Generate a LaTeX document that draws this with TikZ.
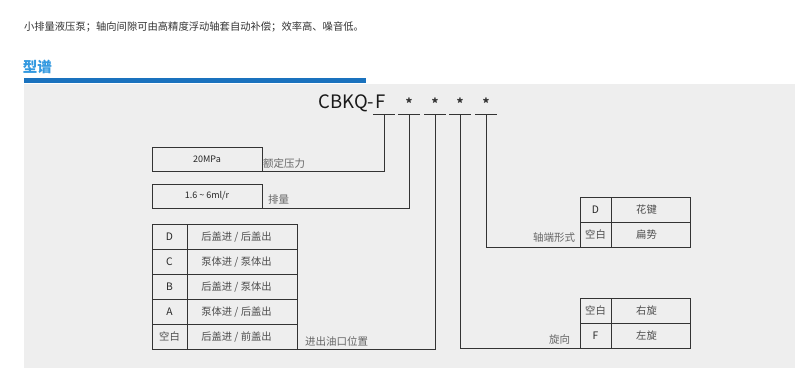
\documentclass[tikz,border=0pt]{standalone}
\usepackage{fontspec}
\setmainfont{Noto Sans CJK SC}
\begin{document}
\begin{tikzpicture}[x=1pt,y=-1pt,
  every node/.style={inner sep=0pt,outer sep=0pt},
  ln/.style={draw=black!80,line width=1pt},
  cell/.style={draw=black!80,line width=1pt,minimum height=25pt,font=\fontsize{10.3}{12}\selectfont,text=black!70},
  lbl/.style={font=\fontsize{10.5}{12}\selectfont,text=black!60},
  boxv/.style={draw=black!80,line width=1pt,minimum width=110pt,minimum height=24pt,font=\fontsize{9}{11}\selectfont,text=black!85}]
\useasboundingbox (0,0) rectangle (800,373);
\definecolor{bgg}{HTML}{EEEEEE}
\definecolor{barb}{HTML}{1A72BE}
\definecolor{ttlb}{HTML}{3399E0}
\fill[white] (0,0) rectangle (800,373);
\fill[bgg] (24,84) rectangle (795,368);
\fill[barb] (24,78) rectangle (366,83);
\node[anchor=west,font=\fontsize{10.3}{12}\selectfont,text=black!80] (desc) at (24,27) {小排量液压泵；轴向间隙可由高精度浮动轴套自动补偿；效率高、噪音低。};
\node[anchor=west,font=\fontsize{14.5}{16}\selectfont\bfseries,text=ttlb] (title) at (23,67) {型谱};
% code
\node[anchor=base east,font=\fontsize{18.5}{20}\selectfont,text=black!90] (code) at (386,108) {CBKQ-\hspace{1.5pt}F};
\foreach \x/\n in {409/a2,435/a3,460/a4,486/a5}
  \node[font=\fontsize{13}{13}\selectfont\bfseries,text=black!80] (\n) at (\x,103) {*};
% underline segments and joint coordinates
\foreach \x/\n in {384/s1,409/s2,435/s3,460/s4,486/s5}{
  \coordinate (\n) at (\x,114);
  \coordinate (\n l) at (\x-11,114);
  \coordinate (\n r) at (\x+11,114);
  \draw[ln] (\n l) -- (\n r);
}
% boxes
\node[boxv] (p20) at (207,159) {20MPa};
\node[lbl,anchor=west] (l20) at (263,163) {额定压力};
\draw[ln] (p20.south east) -| (s1);
\node[boxv] (disp) at (207,196) {1.6 \textasciitilde{} 6ml/r};
\node[lbl,anchor=west] (ldisp) at (268,200) {排量};
\draw[ln] (disp.south east) -| (s2);
% left table
\node[cell,minimum width=35pt,text=black!85] (k1) at (169.5,237) {D};
\node[cell,minimum width=110pt] (v1) at (242.5,237) {后盖进 / 后盖出\hspace*{12pt}};
\node[cell,minimum width=35pt,text=black!85] (k2) at (169.5,262) {C};
\node[cell,minimum width=110pt] (v2) at (242.5,262) {泵体进 / 泵体出\hspace*{12pt}};
\node[cell,minimum width=35pt,text=black!85] (k3) at (169.5,287) {B};
\node[cell,minimum width=110pt] (v3) at (242.5,287) {后盖进 / 泵体出\hspace*{12pt}};
\node[cell,minimum width=35pt,text=black!85] (k4) at (169.5,312) {A};
\node[cell,minimum width=110pt] (v4) at (242.5,312) {泵体进 / 后盖出\hspace*{12pt}};
\node[cell,minimum width=35pt] (k5) at (169.5,337) {空白};
\node[cell,minimum width=110pt] (v5) at (242.5,337) {后盖进 / 前盖出\hspace*{12pt}};
\node[lbl,anchor=west] (lport) at (305,341) {进出油口位置};
\draw[ln] (v5.south east) -| (s3);
% shaft end table
\node[cell,minimum width=31pt,text=black!85] (sk1) at (595.5,209.5) {D};
\node[cell,minimum width=79pt] (sv1) at (650.5,209.5) {花键\hspace*{8pt}};
\node[cell,minimum width=31pt] (sk2) at (595.5,234.5) {空白};
\node[cell,minimum width=79pt] (sv2) at (650.5,234.5) {扁势\hspace*{8pt}};
\node[lbl,anchor=east] (lshaft) at (575,238) {轴端形式};
\draw[ln] (sk2.south west) -| (s5);
% rotation table
\node[cell,minimum width=31pt] (rk1) at (595.5,310.5) {空白};
\node[cell,minimum width=79pt] (rv1) at (650.5,310.5) {右旋\hspace*{8pt}};
\node[cell,minimum width=31pt,text=black!85] (rk2) at (595.5,335.5) {F};
\node[cell,minimum width=79pt] (rv2) at (650.5,335.5) {左旋\hspace*{8pt}};
\node[lbl,anchor=east] (lrot) at (570,339) {旋向};
\draw[ln] (rk2.south west) -| (s4);
\end{tikzpicture}
\end{document}
